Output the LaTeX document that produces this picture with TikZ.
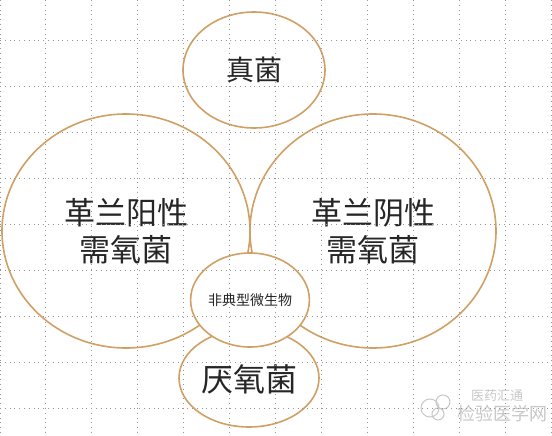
\documentclass[tikz,border=0pt]{standalone}
\usepackage{fontspec}
\newfontfamily\cjk{Noto Sans CJK SC}
\usetikzlibrary{shapes.geometric}
\definecolor{ring}{RGB}{208,160,100}
\definecolor{gridc}{RGB}{150,150,150}
\definecolor{wm}{RGB}{200,200,200}
\tikzset{
  bubble/.style={ellipse, draw=ring, line width=1.6pt, inner sep=0pt, font=\cjk, text=black!85},
  big/.style={font=\cjk\fontsize{31}{37}\selectfont, align=center},
  gridline/.style={gridc, line width=0.6pt, dash pattern=on 0.8pt off 4pt},
}
\begin{document}
\begin{tikzpicture}[x=1pt,y=-1pt]
\useasboundingbox[fill=white] (0,0) rectangle (552,436);
% big circles
\node[bubble, big, minimum width=248pt, minimum height=234pt] (gpos) at (126,231) {革兰阳性\\需氧菌};
\node[bubble, big, minimum width=246pt, minimum height=234pt] (gneg) at (373,231) {革兰阴性\\需氧菌};
% bottom circle
\node[bubble, fill=white, minimum width=140pt, minimum height=98pt, font=\cjk\fontsize{32}{38}\selectfont, text depth=0pt] (anae) at (249,378) {厌氧菌};
% small circle
\node[bubble, fill=white, minimum width=102pt, minimum height=94pt, font=\cjk\fontsize{14}{16}\selectfont] (atyp) at (250,300) {非典型微生物};
% top ellipse
\node[bubble, minimum width=142pt, minimum height=116pt, font=\cjk\fontsize{28}{34}\selectfont] (fung) at (254,70) {真菌};
% watermark
\node[text=wm, font=\cjk\fontsize{18}{21}\selectfont, inner sep=0pt] (wm1) at (502,414) {检验医学网};
\node[text=wm, font=\cjk\fontsize{13}{15}\selectfont, inner sep=0pt] (wm2) at (497,396) {医药汇通};
\draw[wm, line width=1pt] (430,408) circle (9pt) (443,402) circle (7pt) (438,414) circle (6pt);
% grid on top
\foreach \x in {0,45,91,137,183,229,275,321,367,413,459,505,551}
  \draw[gridline] (\x,0) -- (\x,436);
\foreach \y in {40,86,132,178,224,270,316,362,408}
  \draw[gridline] (0,\y) -- (552,\y);
\end{tikzpicture}
\end{document}
